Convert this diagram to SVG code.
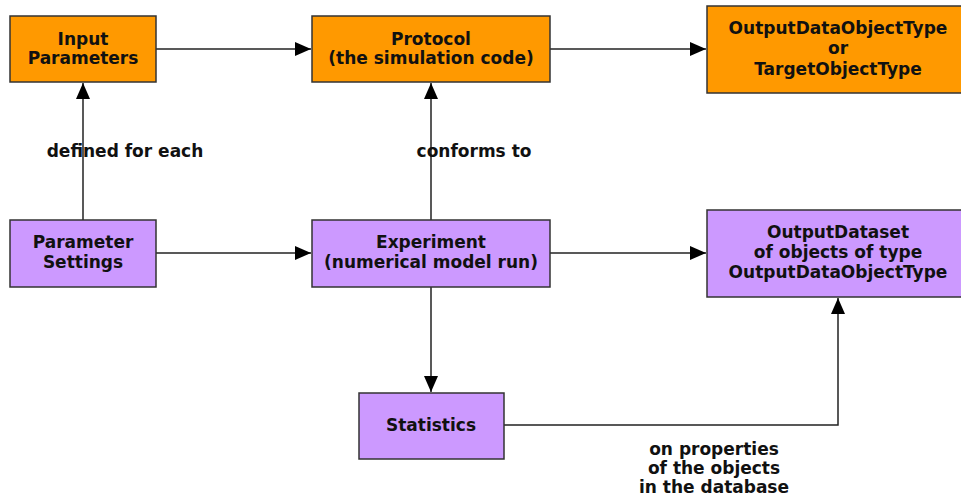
<svg xmlns="http://www.w3.org/2000/svg" width="961" height="502" viewBox="0 0 961 502">
<defs>
<marker id="ah" markerWidth="16" markerHeight="14" refX="16" refY="7" orient="auto" markerUnits="userSpaceOnUse" viewBox="0 0 16 14">
<path d="M0,0 L16,7 L0,14 z" fill="#000"/>
</marker>
<style>
.o{fill:#ff9900;stroke:#333;stroke-width:1.5}
.p{fill:#cc99ff;stroke:#333;stroke-width:1.5}
.t{font-family:"DejaVu Sans",sans-serif;font-weight:bold;font-size:17px;fill:#111;text-anchor:middle}
.c{fill:none;stroke:#222;stroke-width:1.5}
.arr{marker-end:url(#ah)}
</style>
</defs>
<rect width="961" height="502" fill="#fff"/>
<g id="connectors">
<line class="c arr" x1="156" y1="49" x2="311" y2="49"/>
<line class="c arr" x1="550" y1="49" x2="706" y2="49"/>
<line class="c arr" x1="83" y1="220" x2="83" y2="83"/>
<line class="c arr" x1="431" y1="220" x2="431" y2="83"/>
<line class="c arr" x1="156" y1="253" x2="311" y2="253"/>
<line class="c arr" x1="550" y1="253" x2="706" y2="253"/>
<line class="c arr" x1="431" y1="287" x2="431" y2="392"/>
<polyline class="c arr" points="504,425 838,425 838,298"/>
<text class="t" x="125" y="157">defined for each</text>
<text class="t" x="474" y="157">conforms to</text>
<text class="t" x="714" y="455">on properties</text>
<text class="t" x="714" y="474">of the objects</text>
<text class="t" x="714" y="493">in the database</text>
</g>
<g id="input-parameters">
<rect class="o" x="10" y="16" width="146" height="66"/>
<text class="t" x="83" y="45">Input</text>
<text class="t" x="83" y="64">Parameters</text>
</g>
<g id="protocol">
<rect class="o" x="312" y="16" width="238" height="66"/>
<text class="t" x="431" y="45">Protocol</text>
<text class="t" x="431" y="64">(the simulation code)</text>
</g>
<g id="output-type">
<rect class="o" x="707" y="6" width="260" height="87"/>
<text class="t" x="838" y="34">OutputDataObjectType</text>
<text class="t" x="838" y="54">or</text>
<text class="t" x="838" y="75">TargetObjectType</text>
</g>
<g id="parameter-settings">
<rect class="p" x="10" y="220" width="146" height="67"/>
<text class="t" x="83" y="248">Parameter</text>
<text class="t" x="83" y="268">Settings</text>
</g>
<g id="experiment">
<rect class="p" x="312" y="220" width="238" height="67"/>
<text class="t" x="431" y="248">Experiment</text>
<text class="t" x="431" y="268">(numerical model run)</text>
</g>
<g id="output-dataset">
<rect class="p" x="707" y="210" width="260" height="87"/>
<text class="t" x="838" y="238">OutputDataset</text>
<text class="t" x="838" y="258">of objects of type</text>
<text class="t" x="838" y="278">OutputDataObjectType</text>
</g>
<g id="statistics">
<rect class="p" x="359" y="393" width="145" height="66"/>
<text class="t" x="431" y="431">Statistics</text>
</g>
</svg>
